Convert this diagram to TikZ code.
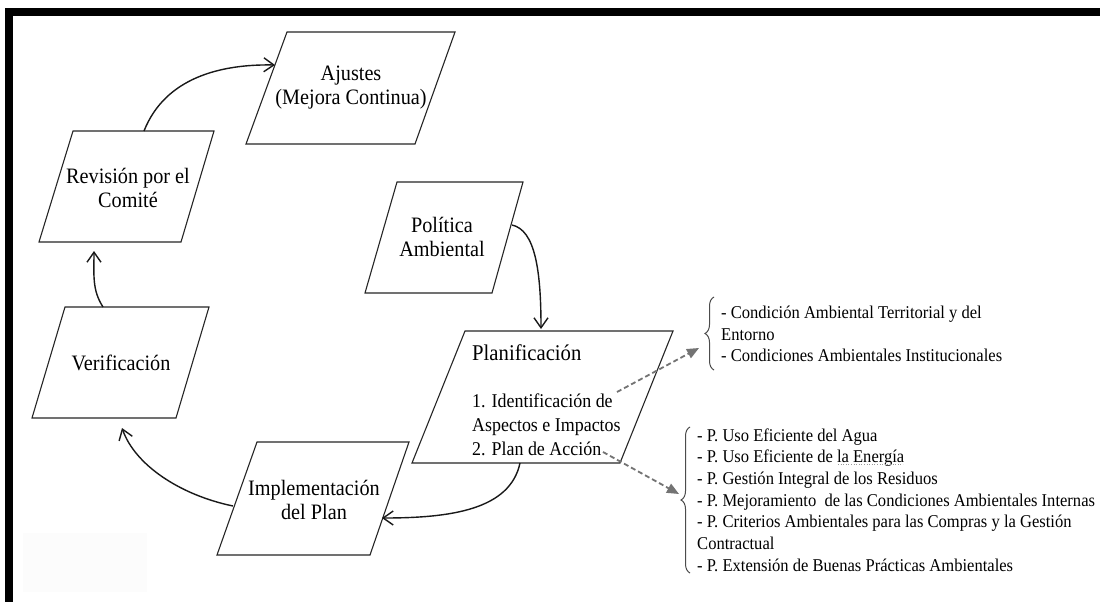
\documentclass[tikz,border=0pt]{standalone}
\usepackage{fontspec}
\setmainfont{Liberation Serif}[FakeStretch=0.92]
\usetikzlibrary{arrows.meta,decorations.pathreplacing}
\begin{document}
\begin{tikzpicture}[x=1pt,y=-1pt,
  box/.style={draw=black!85, line width=1.1pt, line join=miter},
  lbl/.style={font=\fontsize{22}{24}\selectfont, align=center, inner sep=0pt},
  flow/.style={draw=black!90, line width=1.4pt, -{Straight Barb[length=10pt,width=14pt,line width=1.4pt]}},
  dashflow/.style={draw=black!55, line width=1.8pt, dash pattern=on 5pt off 3pt, -{Triangle[length=12pt,width=10pt]}},
  lst/.style={font=\fontsize{18}{21.7}\selectfont, align=left, inner sep=0pt, anchor=west},
  brc/.style={draw=black!70, line width=1pt, decorate, decoration={brace, amplitude=9pt}}
]
\useasboundingbox (0,0) rectangle (1100,602);
\fill[white] (0,0) rectangle (1100,602);
% frame bars
\fill[black] (5,8) rectangle (1100,16);
\fill[black] (5,8) rectangle (13,602);
\fill[black!1] (23,533) rectangle (147,592);

% boxes
\draw[box] (287,32) -- (455,32) -- (415,144) -- (246,144) -- cycle;
\draw[box] (73,131) -- (214,131) -- (181,242) -- (39,242) -- cycle;
\draw[box] (397,182) -- (523,182) -- (492,293) -- (365,293) -- cycle;
\draw[box] (65,307) -- (209,307) -- (176,418) -- (32,418) -- cycle;
\draw[box] (257,442) -- (409,442) -- (370,555) -- (217,555) -- cycle;
\draw[box] (465,331) -- (673,331) -- (620,463) -- (412,463) -- cycle;

% labels
\node[lbl] (aj) at (351,88) {Ajustes\\(Mejora Continua)};
\node[lbl] (rev) at (128,188) {Revisión por el\\Comité};
\node[lbl] (pol) at (442,237) {Política\\Ambiental};
\node[lbl] (ver) at (121,363) {Verificación};
\node[lbl] (imp) at (314,500) {Implementación\\del Plan};
\node[lbl, anchor=west, font=\fontsize{22.5}{24}\selectfont] (pla) at (472,353) {Planificación};
\node[lbl, anchor=west, align=left, font=\fontsize{19.5}{24}\selectfont] (plaitems) at (472,425)
  {1. Identificación de\\Aspectos e Impactos\\2. Plan de Acción};

% connector end points
\coordinate (revT) at (144,131);
\coordinate (ajL) at (275,65);
\coordinate (verT) at (103,307);
\coordinate (revB) at (94,251);
\coordinate (impL) at (233,506);
\coordinate (verB) at (122,428);
\coordinate (plaB) at (520,463);
\coordinate (impR) at (382,518);
\coordinate (polR) at (512,225);
\coordinate (plaT) at (541,329);
\coordinate (idEnd) at (617,392);
\coordinate (acEnd) at (603,452);
\coordinate (brTop) at (699,348);
\coordinate (brBot) at (679,494);

% connectors
\draw[flow] (revT) .. controls (165,78) and (220,64) .. (ajL);
\draw[flow] (verT) .. controls (92,290) and (94,275) .. (revB);
\draw[flow] (impL) .. controls (180,495) and (135,465) .. (verB);
\draw[flow] (plaB) .. controls (510,510) and (450,518) .. (impR);
\draw[flow] (polR) .. controls (535,230) and (541,270) .. (plaT);
\draw[dashflow] (idEnd) -- (brTop);
\draw[dashflow] (acEnd) -- (brBot);

% braces
\draw[brc] (714,370) -- (714,297);
\draw[brc] (690,573) -- (690,427);

% lists
\node[lst] (l1) at (721,334) {- Condición Ambiental Territorial y del\\Entorno\\- Condiciones Ambientales Institucionales};
\node[lst] (l2) at (697,500) {- P. Uso Eficiente del Agua\\- P. Uso Eficiente de la Energía\\- P. Gestión Integral de los Residuos\\- P. Mejoramiento~ de las Condiciones Ambientales Internas\\- P. Criterios Ambientales para las Compras y la Gestión\\Contractual\\- P. Extensión de Buenas Prácticas Ambientales};
\draw[black!40, line width=0.6pt, dotted] (838,464) -- (903,464);
\end{tikzpicture}
\end{document}
